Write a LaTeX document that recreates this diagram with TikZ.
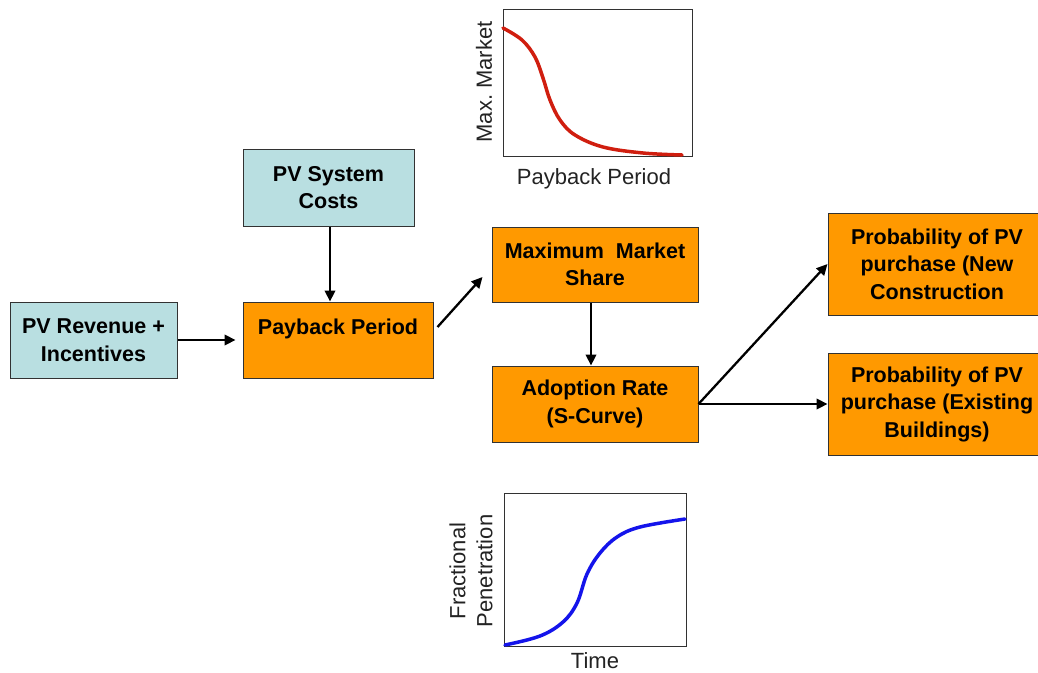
\documentclass[tikz,border=0pt]{standalone}
\usepackage{fontspec}
\setmainfont{Liberation Sans}
\usetikzlibrary{arrows.meta}
\definecolor{pvblue}{RGB}{185,223,225}
\definecolor{pvorange}{RGB}{255,153,0}
\definecolor{edge}{RGB}{50,50,50}
\definecolor{curvered}{RGB}{208,30,15}
\definecolor{curveblue}{RGB}{20,20,235}
\definecolor{axistext}{RGB}{35,35,35}
\tikzset{
  boxbase/.style={draw=edge, line width=1pt, inner sep=0pt, align=center,
    font=\fontsize{21.5}{27.5}\selectfont\bfseries},
  inbox/.style={boxbase, fill=pvblue},
  obox/.style={boxbase, fill=pvorange},
  flow/.style={line width=2.3pt, -{Triangle[length=11pt,width=10.5pt]}},
  chartframe/.style={draw=edge, line width=1pt},
  axislabel/.style={text=axistext, inner sep=0pt, align=center,
    font=\fontsize{22}{27}\selectfont},
}
\begin{document}
\begin{tikzpicture}[x=1pt,y=-1pt]
\clip (0,0) rectangle (1038,672);
\fill[white] (0,0) rectangle (1038,672);

% boxes
\node[inbox, minimum width=167pt, minimum height=76pt] (rev) at (93.5,340) {PV Revenue +\\Incentives};
\node[inbox, minimum width=171pt, minimum height=77pt] (cost) at (328.5,187.5) {PV System\\Costs};
\node[obox, minimum width=190pt, minimum height=76pt] (pay) at (338,340) {Payback Period\\\phantom{P}};
\node[obox, minimum width=206pt, minimum height=75pt] (mms) at (595,264.5) {Maximum\ \ Market\\Share};
\node[obox, minimum width=206pt, minimum height=76pt] (adopt) at (595,404) {Adoption Rate\\(S-Curve)};
\node[obox, minimum width=218pt, minimum height=102pt] (pnew) at (937,264) {Probability of PV\\purchase (New\\Construction};
\node[obox, minimum width=218pt, minimum height=102pt] (pex) at (937,404) {Probability of PV\\purchase (Existing\\Buildings)};

% connectors
\draw[flow, shorten >=7pt] (rev.east) -- (pay.west);
\draw[flow] ([xshift=1.5pt]cost.south) -- ([xshift=1.5pt]cost.south |- pay.north);
\draw[flow] ([xshift=4pt,yshift=13pt]pay.east) -- ([xshift=-9pt,yshift=-12.5pt]mms.west);
\draw[flow] ([xshift=-4pt]mms.south) -- ([xshift=-4pt]adopt.north);
\draw[flow] (adopt.east) -- (pnew.west);
\draw[flow] (adopt.east) -- (pex.west);

% top chart
\draw[chartframe] (503,9) rectangle (692,156);
\draw[curvered, line width=3.5pt, line cap=round] plot[smooth, tension=0.6] coordinates
  {(503,28) (522,40) (535,57) (543,78) (550,100) (560,120) (575,135) (603,147) (643,153) (682,155)};
\node[axislabel, rotate=90] (ylabtop) at (484,82) {Max.\ Market};
\node[axislabel] (xlabtop) at (594,179) {Payback Period};

% bottom chart
\draw[chartframe] (504,493) rectangle (686,646);
\draw[curveblue, line width=3.5pt, line cap=round] plot[smooth, tension=0.6] coordinates
  {(505,645) (540,636) (563,622) (577,603) (587,574) (600,553) (617,537) (640,527) (685,519)};
\node[axislabel, rotate=90] (ylabbot) at (471,571) {Fractional\\Penetration};
\node[axislabel] (xlabbot) at (595,661) {Time};
\end{tikzpicture}
\end{document}
